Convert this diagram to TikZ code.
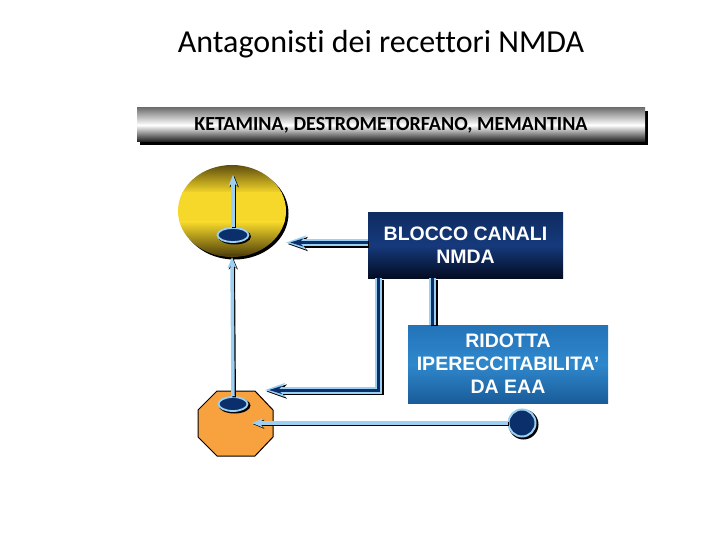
\documentclass[tikz,border=0pt]{standalone}
\usepackage{fontspec}
\setmainfont{Carlito}[Ligatures=NoCommon]
\newfontfamily\boxfont{Liberation Sans}
\usetikzlibrary{arrows.meta,shapes.geometric,calc}
\definecolor{navy}{HTML}{0B2F6B}
\definecolor{lblue}{HTML}{9CD0F2}
\definecolor{orng}{HTML}{F7A13F}
\definecolor{ydark}{HTML}{54440C}
\definecolor{ylight}{HTML}{F6D82A}
\definecolor{bltop}{HTML}{0F2C62}
\definecolor{blmid}{HTML}{153A7C}
\definecolor{blbot}{HTML}{040C22}
\definecolor{ritop}{HTML}{2373B8}
\definecolor{rimid}{HTML}{2F88CC}
\definecolor{ribot}{HTML}{1A5C9A}
\tikzset{
  boxtxt/.style={font=\boxfont\bfseries\fontsize{19.5}{23}\selectfont, text=white, align=center, inner sep=0pt},
  smallell/.style={ellipse, fill=navy, draw=lblue, line width=1.8pt, inner sep=0pt},
}
\newcommand\DblArrow[1]{%
  \draw[black, line width=7pt, -{Stealth[length=20pt,width=14pt,inset=6pt]}, transform canvas={xshift=1.5pt,yshift=-1.5pt}] #1;
  \draw[lblue, line width=7pt, -{Stealth[length=20pt,width=14pt,inset=6pt]}] #1;
  \draw[navy, line width=3pt, -{Stealth[length=13pt,width=8pt,inset=4pt]}, shorten >=4pt] #1;}
\newcommand\DblLine[1]{%
  \draw[black, line width=7pt, transform canvas={xshift=1.5pt,yshift=-1.5pt}] #1;
  \draw[lblue, line width=7pt] #1;
  \draw[navy, line width=3pt] #1;}
\newcommand\ThinArrow[1]{%
  \draw[black, line width=3.5pt, -{Stealth[length=11pt,width=9pt]}, transform canvas={xshift=1.2pt,yshift=-1.2pt}] #1;
  \draw[lblue, line width=3.5pt, -{Stealth[length=11pt,width=9pt]}] #1;}
\begin{document}
\begin{tikzpicture}[x=1pt,y=-1pt]
\fill[white] (0,0) rectangle (720,540);
\useasboundingbox (0,0) rectangle (720,540);

% title
\node[font=\fontsize{32}{38}\selectfont] (title) at (381,44) {Antagonisti dei recettori NMDA};

% banner
\fill[black] (140,111) rectangle (648,145);
\node[minimum width=508pt, minimum height=34pt, inner sep=0pt,
      top color=black!55, bottom color=black!90, middle color=white,
      font=\bfseries\fontsize{20}{24}\selectfont] (drugs) at (391,125)
      {KETAMINA, DESTROMETORFANO, MEMANTINA};

% yellow cell
\fill[black] (234.5,213.5) ellipse [x radius=54pt, y radius=46pt];
\node[ellipse, minimum width=108pt, minimum height=92pt, inner sep=0pt] (circ) at (232,211) {};
\begin{scope}
\clip (circ.center) ellipse [x radius=54pt, y radius=46pt];
\shade[top color=ydark, bottom color=ylight] (170,163) rectangle (292,193);
\fill[ylight] (170,192) rectangle (292,223);
\shade[top color=ylight, bottom color=ydark] (170,222) rectangle (292,255);
\fill[ydark] (170,254) rectangle (292,259);
\end{scope}

% octagon cell
\coordinate (oct) at (235.5,423);
\begin{scope}[shift={(oct)}]
\draw[black, fill=orng, line width=1pt] (-18.5,-32) -- (19.5,-32) -- (37.5,-13) -- (37.5,14) -- (19.5,33) -- (-18.5,33) -- (-37.5,14) -- (-37.5,-13) -- cycle;
\end{scope}

% boxes
\node[minimum width=195pt, minimum height=65pt, inner sep=0pt,
      top color=bltop, bottom color=blbot, middle color=blmid] (blocco) at (465.5,245.5) {};
\node[boxtxt] at (blocco.center) {BLOCCO CANALI\\NMDA};
\node[minimum width=200pt, minimum height=78pt, inner sep=0pt,
      top color=ritop, bottom color=ribot, middle color=rimid] (ridotta) at (508,364) {};
\node[boxtxt] at (ridotta.center) {RIDOTTA\\IPERECCITABILITA’\\DA EAA};

% small ellipses
\fill[black] (234.5,236.5) ellipse [x radius=16.5pt, y radius=8pt];
\node[smallell, minimum width=31pt, minimum height=14pt] (e1) at (233,235) {};
\fill[black] (234.5,405.5) ellipse [x radius=16pt, y radius=8pt];
\node[smallell, minimum width=29pt, minimum height=14pt] (e2) at (233,404) {};

% dot
\fill[black] (523.5,424.5) circle [radius=15pt];
\node[circle, fill=navy, draw=lblue, line width=2pt, minimum size=27pt, inner sep=0pt] (dot) at (522,423) {};

% coordinates
\coordinate (ctop) at (233,175);
\coordinate (elb) at (265,390);
\coordinate (octtip) at (252,423);

% connectors
\ThinArrow{(e1.north) -- (ctop)}
\ThinArrow{(e2.north) -- (circ.south)}
\ThinArrow{(dot.west) -- (dot.west -| octtip)}
\DblLine{([xshift=25pt]ridotta.north west) -- ([xshift=25pt]ridotta.north west |- blocco.south)}
\DblArrow{([yshift=3pt]blocco.west) -- ([yshift=3pt]blocco.west -| circ.east)}
\DblArrow{([xshift=11pt]blocco.south west) |- (elb)}
\end{tikzpicture}
\end{document}
